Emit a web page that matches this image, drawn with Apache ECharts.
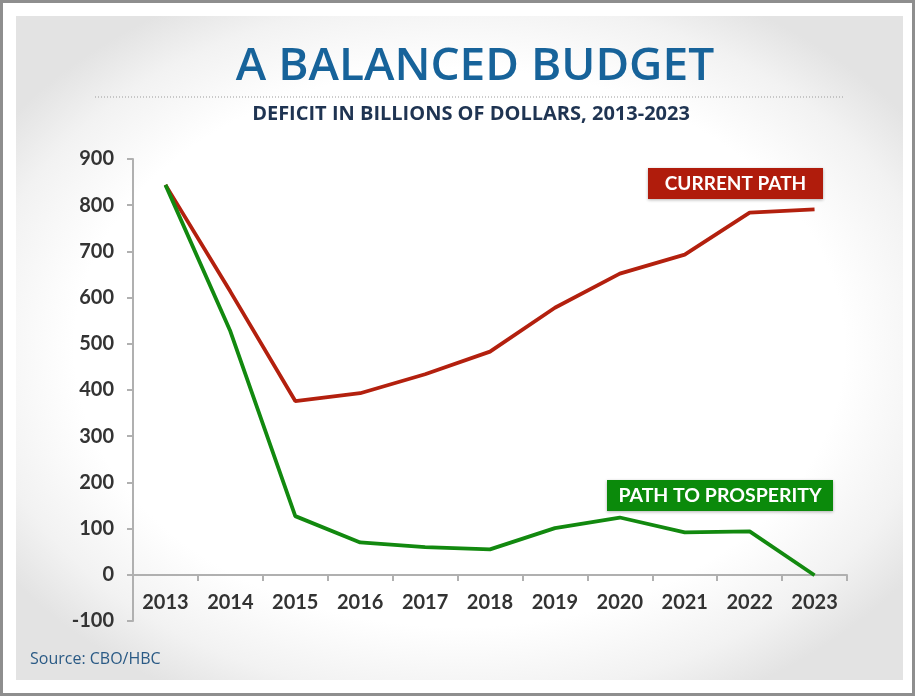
<!DOCTYPE html>
<html>
<head>
<meta charset="utf-8">
<script src="https://cdn.jsdelivr.net/npm/echarts@6/dist/echarts.min.js"></script>
<style>
  html, body { margin: 0; padding: 0; background: #fff; }
  #wrap { position: relative; width: 915px; height: 696px; box-sizing: border-box; border: 3px solid #8e8e8e; background: #fff; }
  #panel { position: absolute; left: 13px; top: 13px; width: 887px; height: 664px;
    background: radial-gradient(ellipse 62% 60% at 50% 50%, #ffffff 70%, #f2f2f2 88%, #e3e3e3 100%); }
  #main { position: absolute; left: -3px; top: -3px; width: 915px; height: 696px; }
</style>
</head>
<body>
<div id="wrap">
  <div id="panel"></div>
  <div id="main"></div>
</div>
<script>
  // deficit, billions of dollars
  var years = ['2013','2014','2015','2016','2017','2018','2019','2020','2021','2022','2023'];
  var currentPath = [844, 613, 376, 393, 434, 483, 578, 652, 693, 784, 791];
  var prosperity  = [844, 527, 127, 70, 60, 55, 101, 124, 92, 94, -1];

  var myChart = echarts.init(document.getElementById('main'));

  var option = {
    animation: false,
    graphic: [
      {
        type: 'text',
        x: 475, y: 67,
        style: { text: 'A BALANCED BUDGET', align: 'center', verticalAlign: 'middle',
          font: '600 46px "Open Sans"', fill: '#17639a' }
      },
      {
        type: 'text',
        x: 471, y: 114,
        style: { text: 'DEFICIT IN BILLIONS OF DOLLARS, 2013-2023', align: 'center', verticalAlign: 'middle',
          font: 'bold 20px "Open Sans"', fill: '#1f3452' }
      },
      {
        type: 'line',
        shape: { x1: 95, y1: 97, x2: 843, y2: 97 },
        style: { stroke: '#9a9a9a', lineWidth: 1, lineDash: [1, 2] }
      },
      {
        type: 'text',
        left: 30, top: 651,
        style: { text: 'Source: CBO/HBC', font: '16px "Open Sans"', fill: '#2a5a85' }
      },
      {
        type: 'group',
        left: 648, top: 168,
        children: [
          { type: 'rect', shape: { width: 175, height: 31 },
            style: { fill: '#b01c0c', shadowBlur: 3, shadowColor: 'rgba(0,0,0,0.3)', shadowOffsetY: 1 } },
          { type: 'text', x: 87.5, y: 16,
            style: { text: 'CURRENT PATH', align: 'center', verticalAlign: 'middle',
              font: 'bold 19px Lato', fill: '#fff' } }
        ]
      },
      {
        type: 'group',
        left: 607, top: 480,
        children: [
          { type: 'rect', shape: { width: 226, height: 31 },
            style: { fill: '#0b8a0b', shadowBlur: 3, shadowColor: 'rgba(0,0,0,0.3)', shadowOffsetY: 1 } },
          { type: 'text', x: 113, y: 16,
            style: { text: 'PATH TO PROSPERITY', align: 'center', verticalAlign: 'middle',
              font: 'bold 19.5px Lato', fill: '#fff' } }
        ]
      }
    ],
    grid: { left: 133, right: 68, top: 159, bottom: 75 },
    xAxis: {
      type: 'category',
      data: years,
      boundaryGap: true,
      offset: -46,
      axisLine: { onZero: false, lineStyle: { color: '#b0b0b0', width: 2 } },
      axisTick: { show: true, length: 6, lineStyle: { color: '#b0b0b0', width: 2 } },
      axisLabel: { margin: 18, fontFamily: 'Lato', fontWeight: 'bold', fontSize: 20, color: '#333' }
    },
    yAxis: {
      type: 'value',
      min: -100,
      max: 900,
      interval: 100,
      splitLine: { show: false },
      axisLine: { show: true, lineStyle: { color: '#b0b0b0', width: 2 } },
      axisTick: { show: true, length: 6, lineStyle: { color: '#b0b0b0', width: 2 } },
      axisLabel: { margin: 19, fontFamily: 'Lato', fontWeight: 'bold', fontSize: 20, color: '#333' }
    },
    series: [
      {
        name: 'Current Path',
        type: 'line',
        data: currentPath,
        showSymbol: false,
        lineStyle: { color: '#b3200e', width: 3.8 },
        itemStyle: { color: '#b3200e' }
      },
      {
        name: 'Path to Prosperity',
        type: 'line',
        data: prosperity,
        showSymbol: false,
        lineStyle: { color: '#12890f', width: 3.8 },
        itemStyle: { color: '#12890f' }
      }
    ]
  };
  myChart.setOption(option);
</script>
</body>
</html>
